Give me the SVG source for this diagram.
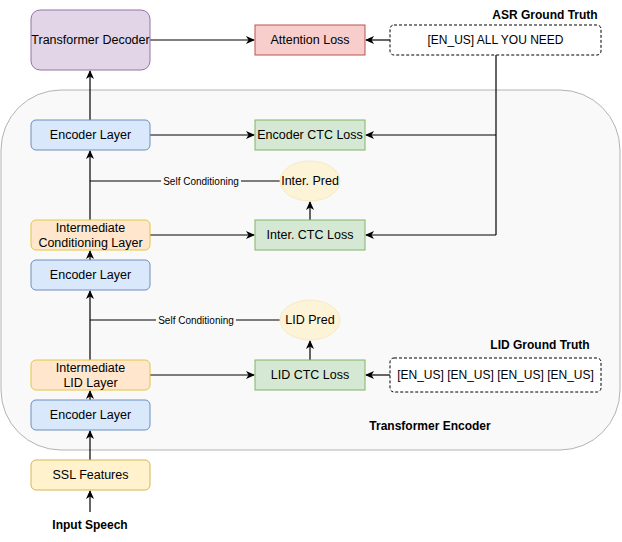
<svg xmlns="http://www.w3.org/2000/svg" width="622" height="542" viewBox="0 0 622 542">
<defs>
<marker id="arr" markerWidth="10" markerHeight="8" refX="8" refY="4" orient="auto" markerUnits="userSpaceOnUse">
<path d="M0,0 L9,4 L0,8 L2.5,4 z" fill="#000"/>
</marker>
<style>
text{font-family:"Liberation Sans",Arial,sans-serif;font-size:12.5px;fill:#000;text-anchor:middle;dominant-baseline:central}
.b{font-weight:bold;font-size:12px}
.s{font-size:10px}
.m{font-size:12px}
.blue{fill:#dae8fc;stroke:#6c8ebf}
.green{fill:#d5e8d4;stroke:#82b366}
.yel{fill:#fff2cc;stroke:#d6b656}
.orng{fill:#ffe6cc;stroke:#e3c83c}
.red{fill:#f8cecc;stroke:#b85450}
.purp{fill:#e1d5e7;stroke:#9673a6}
.dash{fill:#fff;stroke:#000;stroke-dasharray:3 2}
.ell{fill:#fdf3d6;stroke:#f5ebc8}
.c line,.c path{stroke:#000;stroke-width:1.2;fill:none}
.a{marker-end:url(#arr)}
</style>
</defs>
<rect width="622" height="542" fill="#fff"/>
<g id="encoder-container">
<rect x="1" y="90" width="619" height="360" rx="60" fill="#f9f9f9" stroke="#b3b3b3"/>
<text x="430" y="426" class="b">Transformer Encoder</text>
</g>
<g class="c" id="connectors">
<line class="a" x1="90" y1="512" x2="90" y2="491"/>
<line class="a" x1="90" y1="460" x2="90" y2="431"/>
<line class="a" x1="90" y1="400" x2="90" y2="391"/>
<line class="a" x1="90" y1="360" x2="90" y2="291"/>
<line class="a" x1="90" y1="260" x2="90" y2="251"/>
<line class="a" x1="90" y1="220" x2="90" y2="151"/>
<line class="a" x1="90" y1="120" x2="90" y2="71"/>
<line class="a" x1="150" y1="40" x2="254" y2="40"/>
<line class="a" x1="150" y1="135" x2="254" y2="135"/>
<line class="a" x1="150" y1="235" x2="254" y2="235"/>
<line class="a" x1="150" y1="375" x2="254" y2="375"/>
<line class="a" x1="390" y1="40" x2="366" y2="40"/>
<line class="a" x1="390" y1="375" x2="366" y2="375"/>
<path d="M496,55 V235"/>
<line class="a" x1="496" y1="135" x2="366" y2="135"/>
<line class="a" x1="496" y1="235" x2="366" y2="235"/>
<line class="a" x1="310" y1="220" x2="310" y2="202"/>
<line class="a" x1="310" y1="360" x2="310" y2="341"/>
<line x1="90" y1="181" x2="280" y2="181"/>
<line x1="90" y1="320" x2="280" y2="320"/>
<rect x="161" y="174" width="80" height="14" fill="#f9f9f9" stroke="none"/>
<text x="201" y="181" class="s">Self Conditioning</text>
<rect x="156" y="313" width="80" height="14" fill="#f9f9f9" stroke="none"/>
<text x="196" y="320" class="s">Self Conditioning</text>
</g>
<g id="transformer-decoder"><rect x="31" y="10" width="119" height="60" rx="9" class="purp"/><text x="90.5" y="40">Transformer Decoder</text></g>
<g id="attention-loss"><rect x="255" y="25" width="110" height="30" class="red"/><text x="310" y="40">Attention Loss</text></g>
<g id="asr-gt"><rect x="390" y="25" width="211" height="30" rx="4" class="dash"/><text x="495.5" y="40" class="m">[EN_US] ALL YOU NEED</text><text x="545" y="15" class="b">ASR Ground Truth</text></g>
<g id="encoder-layer-3"><rect x="31" y="120" width="119" height="30" rx="5" class="blue"/><text x="90.5" y="135">Encoder Layer</text></g>
<g id="encoder-ctc-loss"><rect x="255" y="120" width="110" height="30" class="green"/><text x="310" y="135">Encoder CTC Loss</text></g>
<g id="inter-pred"><ellipse cx="310" cy="181" rx="30" ry="20" class="ell"/><text x="310" y="181">Inter. Pred</text></g>
<g id="inter-cond-layer"><rect x="31" y="220" width="119" height="30" rx="5" class="orng"/><text x="90.5" y="228">Intermediate</text><text x="90.5" y="243">Conditioning Layer</text></g>
<g id="inter-ctc-loss"><rect x="255" y="220" width="110" height="30" class="green"/><text x="310" y="235">Inter. CTC Loss</text></g>
<g id="encoder-layer-2"><rect x="31" y="260" width="119" height="30" rx="5" class="blue"/><text x="90.5" y="275">Encoder Layer</text></g>
<g id="lid-pred"><ellipse cx="310" cy="320" rx="30" ry="20" class="ell"/><text x="310" y="320">LID Pred</text></g>
<g id="inter-lid-layer"><rect x="31" y="360" width="119" height="30" rx="5" class="orng"/><text x="90.5" y="368">Intermediate</text><text x="90.5" y="383">LID Layer</text></g>
<g id="lid-ctc-loss"><rect x="255" y="360" width="110" height="30" class="green"/><text x="310" y="375">LID CTC Loss</text></g>
<g id="lid-gt"><rect x="390" y="358" width="211" height="34" rx="4" class="dash"/><text x="495.5" y="375" class="m">[EN_US] [EN_US] [EN_US] [EN_US]</text><text x="540" y="345" class="b">LID Ground Truth</text></g>
<g id="encoder-layer-1"><rect x="31" y="400" width="119" height="30" rx="5" class="blue"/><text x="90.5" y="415">Encoder Layer</text></g>
<g id="ssl-features"><rect x="31" y="460" width="119" height="30" rx="5" class="yel"/><text x="90.5" y="475">SSL Features</text></g>
<g id="input-speech"><text x="90" y="525" class="b">Input Speech</text></g>
</svg>
